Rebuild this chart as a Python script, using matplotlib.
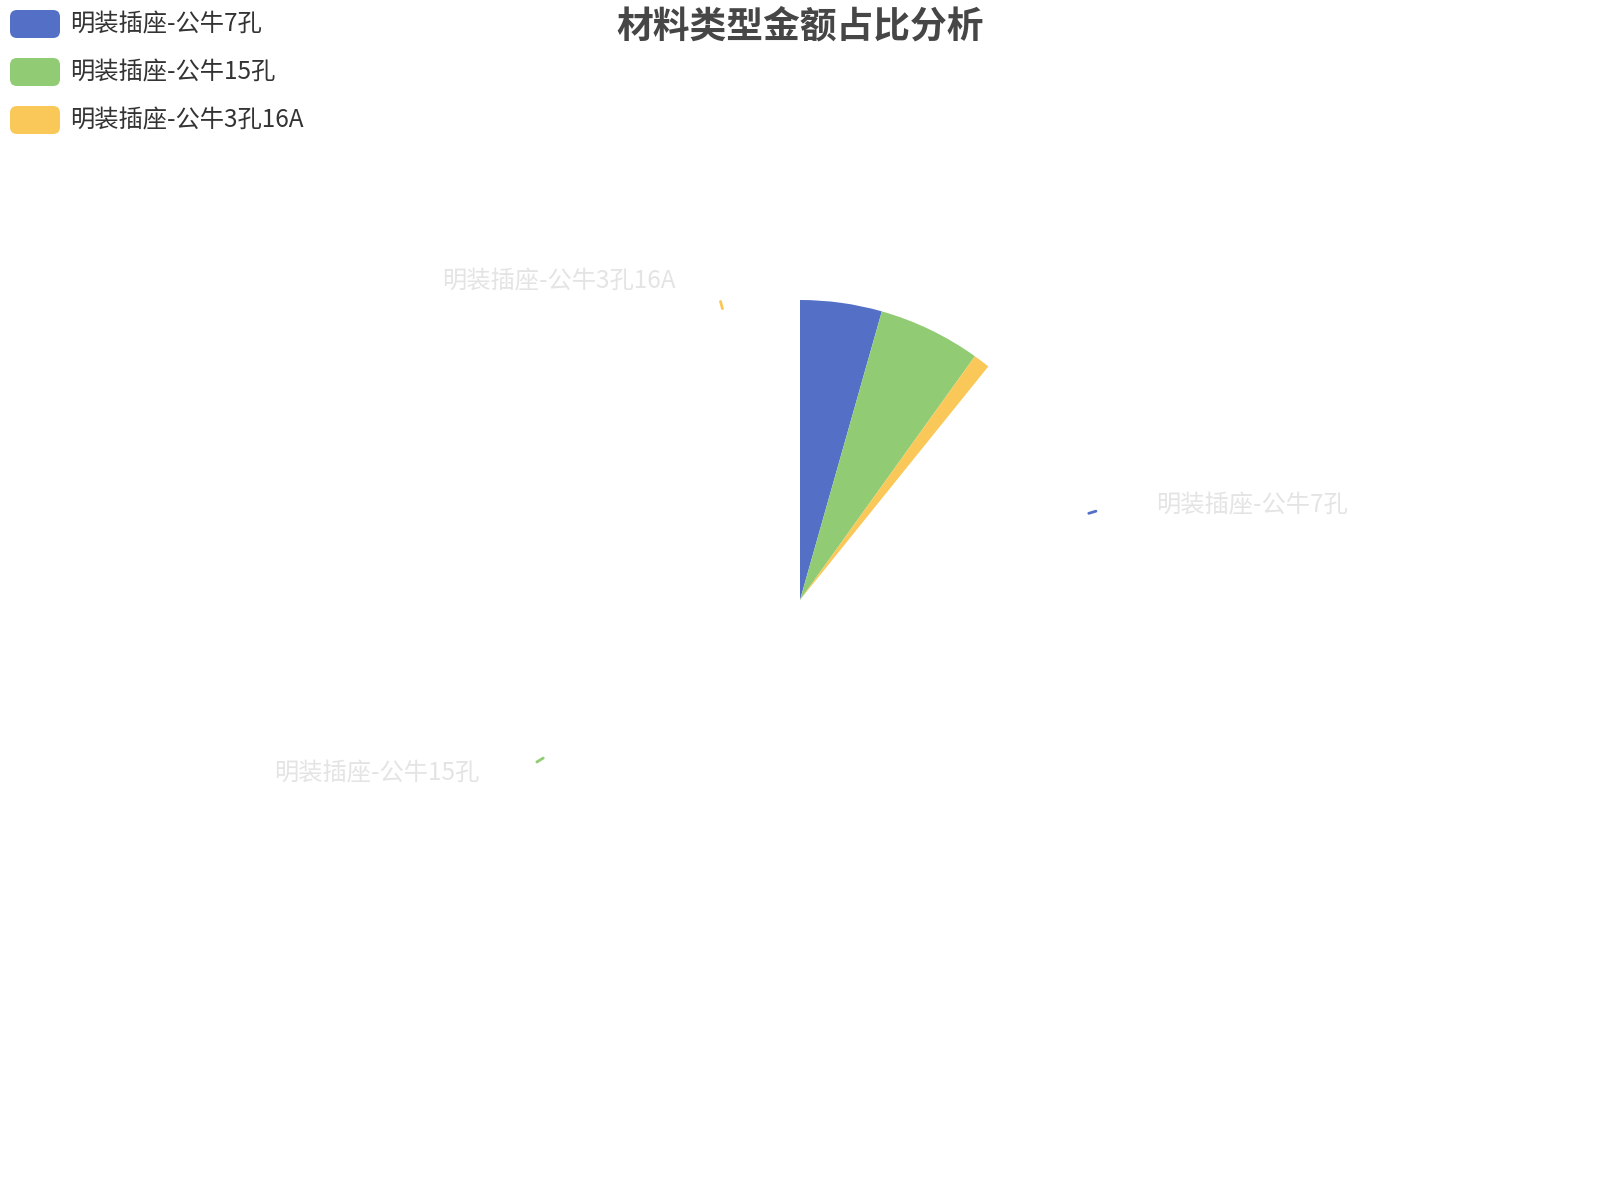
import matplotlib.pyplot as plt
from matplotlib.patches import FancyBboxPatch
import numpy as np

plt.rcParams['font.family'] = ['Noto Sans CJK SC', 'DejaVu Sans']

title = '材料类型金额占比分析'
names = ['明装插座-公牛7孔', '明装插座-公牛15孔', '明装插座-公牛3孔16A']
amounts = [4080, 5110, 830]
colors = ['#5470c6', '#91cc75', '#fac858']
progress = 0.108  # the reference caught the pie mid entrance animation

fig = plt.figure(figsize=(16, 12), dpi=100)

# pie: center (800, 600) px, radius 300 px
ax_pie = fig.add_axes([500 / 1600, 300 / 1200, 600 / 1600, 600 / 1200])
fracs = np.array(amounts) / sum(amounts)
ax_pie.pie(fracs * progress, colors=colors, startangle=90, counterclock=False,
           normalize=False, radius=1, wedgeprops=dict(linewidth=0))
ax_pie.set_xlim(-1, 1)
ax_pie.set_ylim(-1, 1)
ax_pie.axis('off')

# labels at the final slice positions (faded in)
mids = np.radians(360 * (np.cumsum(fracs) - fracs / 2))
for name, col, a in zip(names, colors, mids):
    sx, cy = np.sin(a), np.cos(a)
    ax_pie.plot([1.005 * sx, 1.03 * sx], [1.005 * cy, 1.03 * cy], color=col,
                lw=2, clip_on=False, solid_capstyle='round')
    lx = 1.1 * sx + (0.133 if sx > 0 else -0.133)
    ax_pie.text(lx, 1.1 * cy, name, ha='left' if sx > 0 else 'right', va='center',
                fontsize=17.5, color='#e4e4e4', clip_on=False)

# overlay in pixel coords for title and legend
ax = fig.add_axes([0, 0, 1, 1])
ax.set_xlim(0, 1600)
ax.set_ylim(1200, 0)
ax.axis('off')

ax.text(800, 27, title, ha='center', va='center', fontsize=26.5,
        fontweight='bold', color='#464646')

for i, (name, col) in enumerate(zip(names, colors)):
    yc = 24 + 48 * i
    ax.add_patch(FancyBboxPatch((10, yc - 14), 50, 28,
                                boxstyle='round,pad=0,rounding_size=7',
                                facecolor=col, edgecolor='none'))
    ax.text(70, yc, name, ha='left', va='center', fontsize=17.5, color='#333333')

fig.savefig('out.png')
